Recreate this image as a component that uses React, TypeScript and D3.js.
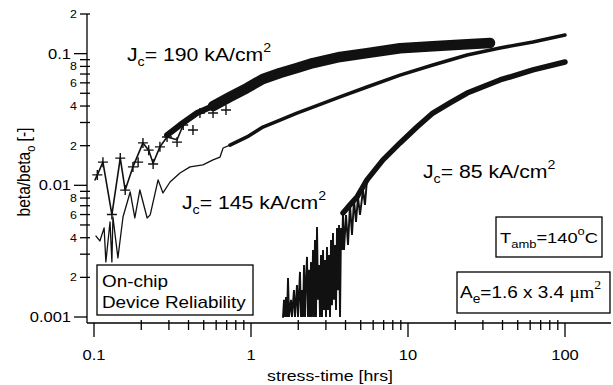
import React from "react";
import * as d3 from "d3";

// ---------- data ----------
const xTickValues = [0.1, 1, 10, 100];
const xTickLabels = ["0.1", "1", "10", "100"];
const yMajorValues = [0.1, 0.01, 0.001];
const yMajorLabels = ["0.1", "0.01", "0.001"];
const yMinorValues = [0.2, 0.08, 0.06, 0.04, 0.02, 0.008, 0.006, 0.004, 0.002];
const yMinorLabels = ["2", "8", "6", "4", "2", "8", "6", "4", "2"];

// J_c = 190 kA/cm2 : early zig-zag (thin), markers, and the dense band
const j190Early: [number, number][] = [
  [0.1015, 0.011], [0.105, 0.012], [0.114, 0.015], [0.13, 0.006], [0.147, 0.0161],
  [0.158, 0.0092], [0.177, 0.0138], [0.205, 0.021], [0.223, 0.0185], [0.238, 0.0147],
  [0.263, 0.0196], [0.292, 0.0233], [0.338, 0.0222], [0.37, 0.0287], [0.453, 0.0342],
  [0.573, 0.0393],
];
const j190Markers: [number, number][] = [
  [0.105, 0.012], [0.114, 0.015], [0.13, 0.006], [0.147, 0.0161], [0.158, 0.0092],
  [0.177, 0.0138], [0.191, 0.015], [0.205, 0.021], [0.223, 0.0185], [0.238, 0.0145],
  [0.263, 0.0196], [0.292, 0.0233], [0.338, 0.0213], [0.37, 0.0287], [0.427, 0.0263],
  [0.473, 0.0354], [0.573, 0.0354], [0.693, 0.0373],
];
const j190Band: [number, number][] = [
  [0.292, 0.0241], [0.353, 0.0287], [0.453, 0.0354], [0.573, 0.04], [0.735, 0.0469],
  [0.943, 0.0548], [1.19, 0.0642], [1.53, 0.0713], [1.96, 0.0778], [2.48, 0.0849],
  [3.69, 0.0943], [5.48, 0.101], [8.9, 0.11], [14.4, 0.114], [23.8, 0.118], [33.3, 0.1205],
];

// J_c = 145 kA/cm2
const j145Early: [number, number][] = [
  [0.103, 0.00412], [0.109, 0.00378], [0.116, 0.00475], [0.119, 0.00262], [0.1265, 0.00527],
  [0.13, 0.00262], [0.132, 0.00575], [0.142, 0.00281], [0.153, 0.00575], [0.17, 0.0089],
  [0.182, 0.00565], [0.196, 0.00922], [0.218, 0.00565], [0.228, 0.00596], [0.256, 0.011],
  [0.275, 0.00875], [0.305, 0.0106], [0.353, 0.0124], [0.409, 0.0138], [0.494, 0.0143],
  [0.573, 0.0156], [0.635, 0.0164], [0.664, 0.0192], [0.735, 0.0202],
];
const j145Late: [number, number][] = [
  [0.735, 0.0202], [0.943, 0.0233], [1.19, 0.0277], [1.53, 0.0313], [1.96, 0.0354],
  [2.48, 0.0393], [3.69, 0.0469], [5.48, 0.0558], [8.9, 0.0686], [14.4, 0.082],
  [23.8, 0.0977], [38.5, 0.1104], [62.5, 0.1226], [100, 0.1385],
];

// J_c = 85 kA/cm2 : noisy start near the floor, then the rising curve
const j85Noise: [number, number][] = [
  [1.599, 0.001], [1.623, 0.00135], [1.647, 0.001], [1.671, 0.00142], [1.696, 0.001],
  [1.721, 0.00198], [1.746, 0.001], [1.798, 0.00135], [1.824, 0.001], [1.878, 0.0016],
  [1.906, 0.001], [1.963, 0.00175], [1.992, 0.001], [2.051, 0.0022], [2.082, 0.001],
  [2.113, 0.0016], [2.144, 0.001], [2.176, 0.00248], [2.208, 0.001], [2.24, 0.00191],
  [2.274, 0.00286], [2.307, 0.001], [2.341, 0.00228], [2.376, 0.001], [2.411, 0.00262],
  [2.446, 0.001], [2.483, 0.00323], [2.519, 0.001], [2.556, 0.00385], [2.594, 0.001],
  [2.633, 0.00483], [2.672, 0.00135], [2.711, 0.00248], [2.751, 0.001], [2.792, 0.00296],
  [2.833, 0.001], [2.875, 0.00323], [2.917, 0.00113], [2.96, 0.00271], [3.004, 0.001],
  [3.049, 0.0034], [3.093, 0.00113], [3.139, 0.00296], [3.186, 0.001], [3.233, 0.00385],
  [3.28, 0.00123], [3.329, 0.00435], [3.378, 0.00135], [3.428, 0.00352], [3.479, 0.00113],
  [3.53, 0.00475], [3.583, 0.0016], [3.636, 0.005], [3.69, 0.001], [3.744, 0.00475],
  [3.799, 0.00323], [3.855, 0.00617], [3.912, 0.00323], [4.029, 0.00595], [4.148, 0.00352],
  [4.272, 0.0071], [4.398, 0.0042], [4.53, 0.00774], [4.665, 0.00527], [4.803, 0.00815],
  [4.947, 0.00595], [5.169, 0.00922], [5.32, 0.0071], [5.48, 0.011],
];
const j85Main: [number, number][] = [
  [3.855, 0.00617], [4.27, 0.0071], [4.73, 0.00815], [5.48, 0.011], [6.93, 0.0156],
  [8.9, 0.021], [11.4, 0.0277], [14.4, 0.0354], [18.5, 0.0422], [23.8, 0.0502],
  [38.5, 0.0631], [62.5, 0.0752], [100, 0.0864],
];

// ---------- layout ----------
const W = 613;
const H = 385;
const FONT = "'Liberation Sans', Arial, Helvetica, sans-serif";
const SERIF = "'Liberation Serif', 'Times New Roman', serif";
const SX = 1.18; // the figure's lettering is horizontally widened

type TxtProps = {
  x: number;
  y: number;
  size: number;
  anchor?: "start" | "middle" | "end";
  rotate?: number;
  sx?: number;
  children: React.ReactNode;
};
function Txt({ x, y, size, anchor = "start", rotate, sx = SX, children }: TxtProps) {
  return (
    <g transform={`translate(${x},${y}) scale(${sx},1)${rotate ? ` rotate(${rotate})` : ""}`}>
      <text x={0} y={0} fontSize={size} textAnchor={anchor} fill="#000">
        {children}
      </text>
    </g>
  );
}

export default function App() {
  const x = d3.scaleLog().domain([0.1, 100]).range([94, 565]);
  const y = d3.scaleLog().domain([0.2, 0.001]).range([14, 317]);
  const axX0 = 87, axX1 = 611, axY0 = 14, axY1 = 323;

  const line = d3
    .line<[number, number]>()
    .x((d) => x(d[0]))
    .y((d) => y(d[1]));

  const xMinor = d3
    .scaleLog()
    .domain([x.invert(axX0), x.invert(axX1)])
    .ticks()
    .filter((v) => v <= 100.0001 && !xTickValues.some((t) => Math.abs(t - v) / t < 1e-6));
  const yMinor = d3
    .scaleLog()
    .domain([0.001, 0.2])
    .ticks()
    .filter((v) => !yMajorValues.some((t) => Math.abs(t - v) / t < 1e-6));

  const bandThin = j190Band.filter((d) => d[0] <= 0.75);
  const bandThick = j190Band.filter((d) => d[0] >= 0.57);

  return (
    <svg
      width={W}
      height={H}
      style={{ position: "absolute", left: 0, top: 0, background: "#fff" }}
      fontFamily={FONT}
    >
      <rect x={0} y={0} width={W} height={H} fill="#fff" />

      {/* curves */}
      <g fill="none" stroke="#111" strokeLinejoin="round" strokeLinecap="round">
        <path d={line(j145Early) || ""} strokeWidth={1.3} />
        <path d={line(j145Late) || ""} strokeWidth={3.5} />
        <path d={line(j190Early) || ""} strokeWidth={1.6} />
        <path d={line(bandThin) || ""} strokeWidth={6} />
        <path d={line(bandThick) || ""} strokeWidth={10.5} />
        <path d={line(j85Noise) || ""} strokeWidth={1.9} strokeLinejoin="miter" />
        <path d={line(j85Main) || ""} strokeWidth={5.5} />
        {j190Markers.map((d, i) => (
          <path
            key={i}
            d={`M${x(d[0]) - 5},${y(d[1])}h10M${x(d[0])},${y(d[1]) - 5}v10`}
            strokeWidth={1.4}
            strokeLinecap="butt"
          />
        ))}
      </g>

      {/* axes */}
      <g stroke="#000" strokeWidth={1.3} fill="none">
        <line x1={axX0} y1={axY0} x2={axX0} y2={axY1} />
        <line x1={axX0} y1={axY1} x2={axX1} y2={axY1} />
        {xTickValues.map((v) => (
          <line key={"xM" + v} x1={x(v)} x2={x(v)} y1={axY1} y2={axY1 + 14} />
        ))}
        {xMinor.map((v) => (
          <line key={"xm" + v} x1={x(v)} x2={x(v)} y1={axY1 - 3} y2={axY1 + 7} />
        ))}
        {yMajorValues.map((v) => (
          <line key={"yM" + v} x1={axX0 - 13} x2={axX0} y1={y(v)} y2={y(v)} />
        ))}
        {yMinor.map((v) => (
          <line key={"ym" + v} x1={axX0 - 7} x2={axX0 + 3} y1={y(v)} y2={y(v)} />
        ))}
      </g>

      {/* tick labels */}
      {xTickValues.map((v, i) => (
        <Txt key={"xl" + v} x={x(v)} y={360} size={14} anchor="middle">
          {xTickLabels[i]}
        </Txt>
      ))}
      {yMajorValues.map((v, i) => (
        <Txt key={"yl" + v} x={71} y={y(v) + 5} size={14} anchor="end">
          {yMajorLabels[i]}
        </Txt>
      ))}
      {yMinorValues.map((v, i) => (
        <Txt key={"yml" + i} x={77} y={y(v) + 4} size={10.5} anchor="end">
          {yMinorLabels[i]}
        </Txt>
      ))}

      {/* axis titles */}
      <Txt x={330} y={381} size={15} anchor="middle">
        stress-time [hrs]
      </Txt>
      <Txt x={30} y={172} size={15.5} anchor="middle" rotate={-90}>
        beta/beta<tspan dy={4} fontSize={11}>o</tspan>
        <tspan dy={-4}> [-]</tspan>
      </Txt>

      {/* curve labels */}
      <Txt x={127} y={61} size={18}>
        J<tspan dy={5} fontSize={12}>c</tspan>
        <tspan dy={-5}>= 190 kA/cm</tspan>
        <tspan dy={-9} fontSize={12}>2</tspan>
      </Txt>
      <Txt x={182} y={209} size={18}>
        J<tspan dy={5} fontSize={12}>c</tspan>
        <tspan dy={-5}>= 145 kA/cm</tspan>
        <tspan dy={-9} fontSize={12}>2</tspan>
      </Txt>
      <Txt x={423} y={178} size={18}>
        J<tspan dy={5} fontSize={12}>c</tspan>
        <tspan dy={-5}>= 85 kA/cm</tspan>
        <tspan dy={-9} fontSize={12}>2</tspan>
      </Txt>

      {/* boxes */}
      <rect x={97} y={265} width={156} height={50} fill="#fff" stroke="#000" strokeWidth={1.3} />
      <Txt x={102} y={287} size={16}>On-chip</Txt>
      <Txt x={102} y={308} size={16}>Device Reliability</Txt>

      <rect x={496} y={217} width={106} height={40} fill="#fff" stroke="#000" strokeWidth={1.3} />
      <Txt x={500} y={243} size={15.5}>
        T<tspan dy={5} fontSize={11}>amb</tspan>
        <tspan dy={-5}>=140</tspan>
        <tspan dy={-8} fontSize={11}>o</tspan>
        <tspan dy={8}>C</tspan>
      </Txt>

      <rect x={457} y={272} width={153} height={41} fill="#fff" stroke="#000" strokeWidth={1.3} />
      <Txt x={460} y={298} size={16.5} sx={1.15}>
        A<tspan dy={5} fontSize={12}>e</tspan>
        <tspan dy={-5}>=1.6 x 3.4 </tspan>
        <tspan fontFamily={SERIF}>μm</tspan>
        <tspan dy={-9} fontSize={12} fontFamily={SERIF}>2</tspan>
      </Txt>
    </svg>
  );
}
